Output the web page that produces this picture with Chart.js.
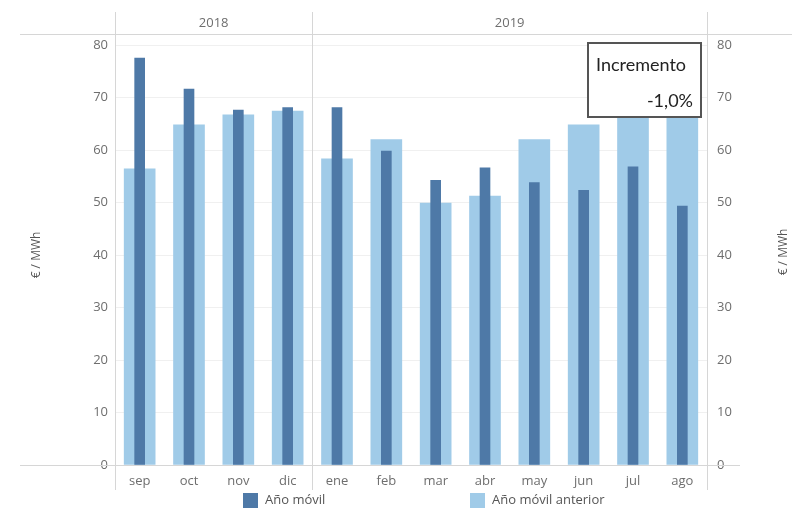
<!DOCTYPE html>
<html>
<head>
<meta charset="utf-8">
<script src="https://cdn.jsdelivr.net/npm/chart.js@4/dist/chart.umd.min.js"></script>
<style>
  html, body { margin: 0; padding: 0; background: #fff; }
  #wrap { width: 792px; height: 510px; position: relative; }
</style>
</head>
<body>
<div id="wrap"><canvas id="c" width="792" height="510"></canvas></div>
<script>
const months = ['sep','oct','nov','dic','ene','feb','mar','abr','may','jun','jul','ago'];
const years = ['2018','2018','2018','2018','2019','2019','2019','2019','2019','2019','2019','2019'];
const anoMovil = [77.5, 71.6, 67.6, 68.1, 68.1, 59.8, 54.2, 56.6, 53.8, 52.3, 56.8, 49.3];
const anoMovilAnterior = [56.4, 64.8, 66.7, 67.4, 58.3, 62.0, 49.9, 51.2, 62.0, 64.8, 68.7, 70.9];
const seriesNames = ['Año móvil', 'Año móvil anterior'];
const axisTitle = '€ / MWh';
const yMin = 0, yMax = 80, yStep = 10;
const boxTitle = 'Incremento';
const boxValue = '-1,0%';

const DARK = '#4e79a7';
const LIGHT = '#a0cbe8';
const LINE = '#d6d6d6';
const TXT = '#6e6e6e';
const FONT = "'Open Sans', sans-serif";

const framePlugin = {
  id: 'frame',
  beforeDatasetsDraw(chart) {
    const {ctx, chartArea: a, scales: {x}} = chart;
    const n = months.length;
    const cw = (a.right - a.left) / n;
    ctx.save();
    ctx.strokeStyle = LINE;
    ctx.lineWidth = 1;
    const bounds = [a.left];
    const groups = [];
    let start = 0;
    for (let i = 1; i <= n; i++) {
      if (i === n || years[i] !== years[i - 1]) {
        groups.push({label: years[start], x0: x.getPixelForValue(start) - cw / 2, x1: x.getPixelForValue(i - 1) + cw / 2});
        bounds.push(x.getPixelForValue(i - 1) + cw / 2);
        start = i;
      }
    }
    ctx.beginPath();
    bounds.forEach(bx => {
      const px = Math.round(bx) + 0.5;
      ctx.moveTo(px, 12); ctx.lineTo(px, 490);
    });
    ctx.moveTo(20, 34.5); ctx.lineTo(792, 34.5);
    ctx.moveTo(20, Math.round(a.bottom) + 0.5); ctx.lineTo(740, Math.round(a.bottom) + 0.5);
    ctx.stroke();
    ctx.fillStyle = TXT;
    ctx.font = '13px ' + FONT;
    ctx.textAlign = 'center';
    ctx.textBaseline = 'middle';
    groups.forEach(g => ctx.fillText(g.label, (g.x0 + g.x1) / 2, 23));
    ctx.restore();
  },
  afterDraw(chart) {
    const {ctx} = chart;
    ctx.save();
    ctx.fillStyle = '#555';
    ctx.font = '12px ' + FONT;
    ctx.textAlign = 'center';
    ctx.textBaseline = 'middle';
    ctx.translate(784, 252);
    ctx.rotate(-Math.PI / 2);
    ctx.fillText(axisTitle, 0, 0);
    ctx.restore();

    ctx.save();
    const items = [
      {label: seriesNames[0], color: DARK, x: 243},
      {label: seriesNames[1], color: LIGHT, x: 470}
    ];
    ctx.font = '13px ' + FONT;
    ctx.textBaseline = 'middle';
    ctx.textAlign = 'left';
    items.forEach(it => {
      ctx.fillStyle = it.color;
      ctx.fillRect(it.x, 493, 15, 15);
      ctx.fillStyle = '#555';
      ctx.fillText(it.label, it.x + 22, 500.5);
    });
    ctx.restore();

    ctx.save();
    ctx.fillStyle = '#fff';
    ctx.fillRect(588, 43, 113, 74);
    ctx.strokeStyle = '#555';
    ctx.lineWidth = 2;
    ctx.strokeRect(588, 43, 113, 74);
    ctx.fillStyle = '#222';
    ctx.font = '18px Lato, sans-serif';
    ctx.textBaseline = 'middle';
    ctx.textAlign = 'left';
    ctx.fillText(boxTitle, 596, 65);
    ctx.textAlign = 'right';
    ctx.fillText(boxValue, 693, 101);
    ctx.restore();
  }
};

new Chart(document.getElementById('c'), {
  type: 'bar',
  data: {
    labels: months,
    datasets: [
      {
        label: seriesNames[0],
        data: anoMovil,
        backgroundColor: DARK,
        barThickness: 10,
        grouped: false,
        order: 1,
        yAxisID: 'y'
      },
      {
        label: seriesNames[1],
        data: anoMovilAnterior,
        backgroundColor: LIGHT,
        barThickness: 31,
        grouped: false,
        order: 2,
        yAxisID: 'y'
      }
    ]
  },
  options: {
    responsive: false,
    animation: false,
    devicePixelRatio: 1,
    layout: { padding: { top: 45, left: 0, right: 0, bottom: 0 } },
    plugins: {
      legend: { display: false },
      tooltip: { enabled: false }
    },
    scales: {
      x: {
        grid: { display: false, drawTicks: false },
        border: { display: false },
        ticks: { color: TXT, font: { family: FONT, size: 13 }, padding: 8, maxRotation: 0 },
        afterFit(s) { s.height = 45; }
      },
      y: {
        position: 'left',
        min: yMin, max: yMax,
        ticks: { stepSize: yStep, color: TXT, font: { family: FONT, size: 13 }, padding: 7 },
        grid: { color: '#f0f0f0', drawTicks: false },
        border: { display: false },
        title: { display: true, text: axisTitle, color: '#555', font: { family: FONT, size: 12 }, padding: { top: 29, bottom: 0 } },
        afterFit(s) { s.width = 115; }
      },
      y2: {
        position: 'right',
        min: yMin, max: yMax,
        ticks: { stepSize: yStep, color: TXT, font: { family: FONT, size: 13 }, padding: 10 },
        grid: { display: false, drawTicks: false },
        border: { display: false },
        afterFit(s) { s.width = 85; }
      }
    }
  },
  plugins: [framePlugin]
});
</script>
</body>
</html>
